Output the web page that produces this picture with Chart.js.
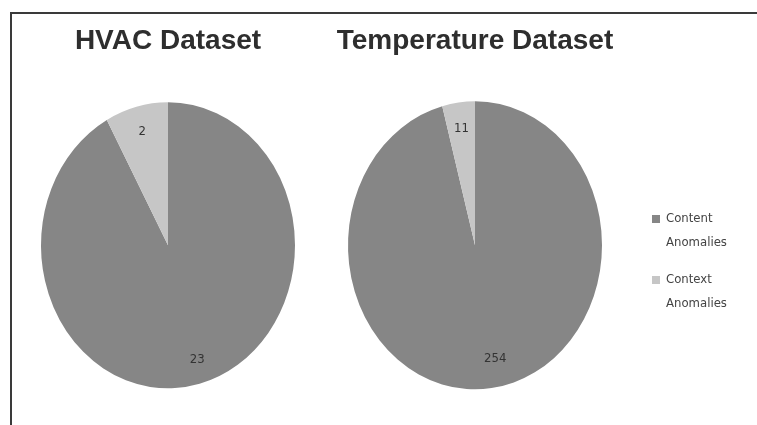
<!DOCTYPE html>
<html>
<head>
<meta charset="utf-8">
<script src="https://cdn.jsdelivr.net/npm/chart.js@4"></script>
<style>
  body { margin: 0; background: #fff; }
  #wrap { position: relative; width: 757px; height: 425px; overflow: hidden; }
  #frame { position: absolute; left: 10px; top: 12px; width: 800px; height: 500px;
           border-top: 2px solid #3a3a3a; border-left: 2px solid #3a3a3a; }
  canvas { position: absolute; top: 0; }
  #hvac { left: 0; }
  #temp { left: 322px; }
</style>
</head>
<body>
<div id="wrap">
  <div id="frame"></div>
  <canvas id="hvac" width="322" height="425"></canvas>
  <canvas id="temp" width="435" height="425"></canvas>
</div>
<script>
const categories = ['Content Anomalies', 'Context Anomalies'];
const legendLines = [['Content', 'Anomalies'], ['Context', 'Anomalies']];
const hvacValues = [23, 2];
const temperatureValues = [254, 11];
const chartTitles = ['HVAC Dataset', 'Temperature Dataset'];
const sliceColors = ['#868686', '#c6c6c6'];

const titleFont = { family: "'Liberation Sans Narrow', 'Liberation Sans', sans-serif", size: 28, weight: 'bold' };
const smallFont = "13px 'DejaVu Sans Condensed', 'Liberation Sans', sans-serif";

// stretch the pie vertically so it becomes an ellipse like the original
const ellipse = {
  id: 'ellipse',
  beforeDatasetsDraw(chart, args, opts) {
    const arc = chart.getDatasetMeta(0).data[0];
    const ctx = chart.ctx;
    ctx.save();
    ctx.translate(arc.x, arc.y);
    ctx.scale(1, opts.scaleY);
    ctx.translate(-arc.x, -arc.y);
  },
  afterDatasetsDraw(chart) {
    chart.ctx.restore();
  }
};

// value labels placed near the outer edge of each slice
const valueLabels = {
  id: 'valueLabels',
  afterDatasetsDraw(chart, args, opts) {
    const ctx = chart.ctx;
    const sy = chart.options.plugins.ellipse.scaleY;
    const values = chart.data.datasets[0].data;
    ctx.save();
    ctx.font = smallFont;
    ctx.fillStyle = '#333';
    ctx.textAlign = 'center';
    ctx.textBaseline = 'middle';
    chart.getDatasetMeta(0).data.forEach((arc, i) => {
      const mid = (arc.startAngle + arc.endAngle) / 2 + opts.turn[i];
      const r = arc.outerRadius * opts.pos[i];
      ctx.fillText(String(values[i]), arc.x + Math.cos(mid) * r, arc.y + Math.sin(mid) * r * sy);
    });
    ctx.restore();
  }
};

// two-line legend at the right, drawn on the second chart
const sideLegend = {
  id: 'sideLegend',
  afterDraw(chart, args, opts) {
    if (!opts.show) return;
    const ctx = chart.ctx;
    const colors = chart.data.datasets[0].backgroundColor;
    ctx.save();
    ctx.font = smallFont;
    ctx.textBaseline = 'middle';
    legendLines.forEach((lines, i) => {
      const y = opts.top + i * opts.gap;
      ctx.fillStyle = colors[i];
      ctx.fillRect(opts.x, y - 4, 8, 8);
      ctx.fillStyle = '#444';
      lines.forEach((t, j) => ctx.fillText(t, opts.x + 14, y + j * 24));
    });
    ctx.restore();
  }
};

function makePie(id, title, values, pad, scaleY, labelOpts, legend) {
  return new Chart(document.getElementById(id), {
    type: 'pie',
    data: {
      labels: categories,
      datasets: [{ data: values, backgroundColor: sliceColors, borderWidth: 0, clip: false }]
    },
    options: {
      responsive: false,
      animation: false,
      events: [],
      radius: 127,
      layout: { padding: pad },
      plugins: {
        legend: { display: false },
        tooltip: { enabled: false },
        title: {
          display: true, text: title, font: titleFont, color: '#2e2e2e',
          padding: { top: 24, bottom: 8 }
        },
        ellipse: { scaleY: scaleY },
        valueLabels: labelOpts,
        sideLegend: legend
      }
    },
    plugins: [ellipse, valueLabels, sideLegend]
  });
}

makePie('hvac', chartTitles[0], hvacValues, { left: 14, right: 0, top: 0, bottom: 0 },
  1.126, { pos: [0.83, 0.82], turn: [-0.03, 0] }, { show: false });
makePie('temp', chartTitles[1], temperatureValues, { left: 0, right: 129, top: 0, bottom: 0 },
  1.134, { pos: [0.8, 0.82], turn: [-0.07, 0] }, { show: true, x: 330, top: 219, gap: 61 });
</script>
</body>
</html>
